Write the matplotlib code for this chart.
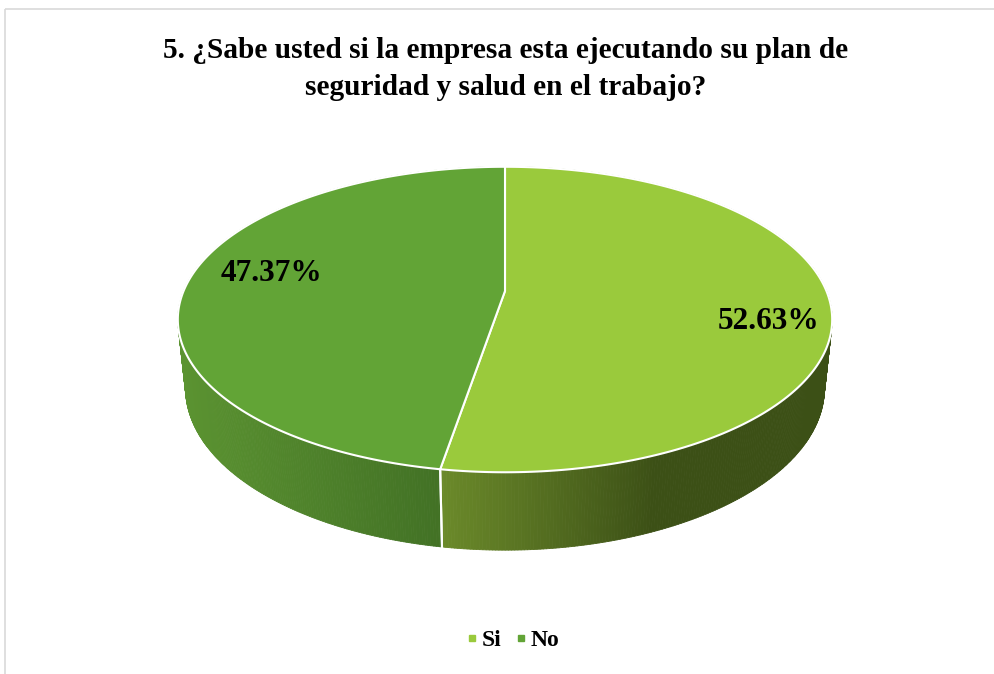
import numpy as np
import matplotlib.pyplot as plt
from matplotlib.collections import PolyCollection
from matplotlib.lines import Line2D
from matplotlib.patches import Polygon, Rectangle
from matplotlib.colors import to_rgb

# ---------------- data ----------------
categories = ["Si", "No"]
values = [52.63, 47.37]
labels = ["52.63%", "47.37%"]
title = "5. ¿Sabe usted si la empresa esta ejecutando su plan de\nseguridad y salud en el trabajo?"

top_colors = ["#9ACA3C", "#62A436"]
# gradient of the side (left colour, right colour)
side_colors = [("#6B8A2A", "#3C5016"), ("#5B9331", "#3C6922")]
label_radius = [0.81, 0.765]

# ---------------- 3D projection ----------------
W, H = 995, 674
CX, CY = 505, 291
ELEV = np.radians(27.3)
DIST = 4.76
FOC = 1530
DEPTH = 0.243
FONT = "Liberation Serif"


def proj(t, z=0.0, r=1.0):
    X = r * np.cos(t)
    Y = r * np.sin(t)
    d = DIST + Y * np.cos(ELEV) - z * np.sin(ELEV)
    up = Y * np.sin(ELEV) + z * np.cos(ELEV)
    return CX + FOC * X / d, CY - FOC * up / d


fig = plt.figure(figsize=(W / 100, H / 100), dpi=100)
ax = fig.add_axes([0, 0, 1, 1])
ax.set_xlim(0, W)
ax.set_ylim(H, 0)
ax.axis("off")

# frame
ax.add_patch(Rectangle((5, 9), W, H, fill=False, edgecolor="#D9D9D9", lw=1.2))

total = sum(values)
starts = []
a = np.pi / 2
for v in values:
    span = v / total * 2 * np.pi
    starts.append((a, a - span))
    a -= span

# sides (front part, drawn strip by strip with gradient)
for k, ((t0, t1), (cl, cr)) in enumerate(zip(starts, side_colors)):
    ts = np.linspace(t0, t1, 400)
    xs, _ = proj(ts)
    polys, cols = [], []
    x_lo, x_hi = xs.min(), xs.max()
    if k == 0:
        x_hi = x_lo + (x_hi - x_lo) * 0.55
    for i in range(len(ts) - 1):
        p = [proj(ts[i], 0), proj(ts[i + 1], 0), proj(ts[i + 1], -DEPTH), proj(ts[i], -DEPTH)]
        polys.append(p)
        f = np.clip((0.5 * (xs[i] + xs[i + 1]) - x_lo) / (x_hi - x_lo), 0, 1)
        c = (1 - f) * np.array(to_rgb(cl)) + f * np.array(to_rgb(cr))
        cols.append(c)
    ax.add_collection(PolyCollection(polys, facecolors=cols, edgecolors=cols, lw=0.6))

# white seams on the side
for t0, t1 in starts:
    for t in (t0, t1):
        x0, y0 = proj(t, 0)
        x1, y1 = proj(t, -DEPTH)
        if np.sin(t) < 0:
            ax.plot([x0, x1], [y0, y1], color="white", lw=1.5)

# top faces
for (t0, t1), c in zip(starts, top_colors):
    ts = np.linspace(t0, t1, 400)
    xs, ys = proj(ts)
    pts = [proj(0, 0, 0)] + list(zip(xs, ys))
    ax.add_patch(Polygon(pts, closed=True, facecolor=c, edgecolor="white", lw=1.5))

# data labels
for (t0, t1), lab, r in zip(starts, labels, label_radius):
    tm = 0.5 * (t0 + t1) - np.radians(7)
    x, y = proj(tm, 0, r)
    ax.text(x, y + 5, lab, ha="center", va="center", fontsize=22.5,
            fontweight="bold", family=FONT, color="black")

fig.text(506 / W, 1 - 69 / H, title, ha="center", va="center", fontsize=21.2,
         fontweight="bold", family=FONT, linespacing=1.45)

handles = [Line2D([], [], ls="", marker="s", markersize=5, color=c) for c in top_colors]
fig.legend(handles, categories, loc="center", bbox_to_anchor=(513 / W, 1 - 640 / H),
           ncol=2, frameon=False, handlelength=0.5, handletextpad=0.15, columnspacing=0.6,
           prop={"family": FONT, "weight": "bold", "size": 17})

fig.savefig("out.png", dpi=100)
